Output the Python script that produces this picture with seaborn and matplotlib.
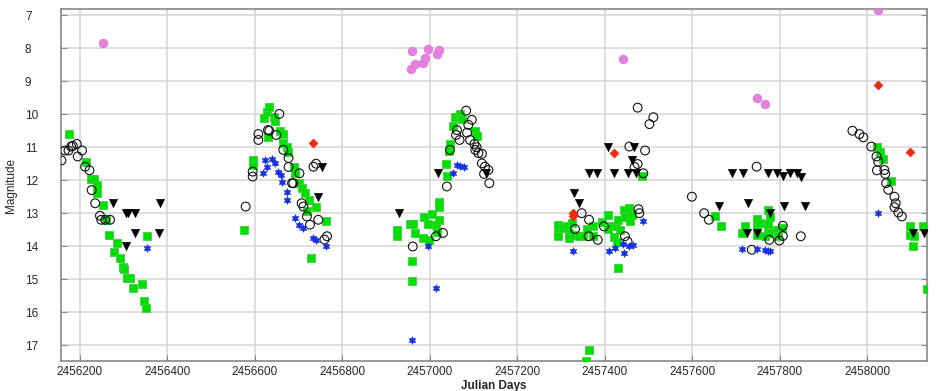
import matplotlib
matplotlib.use("Agg")
import matplotlib.pyplot as plt
import seaborn as sns
import numpy as np

# visual estimates (open circles)
vis_jd = [2456158, 2456166, 2456174, 2456180, 2456184, 2456193, 2456195, 2456205, 2456212, 2456222,
          2456227, 2456235, 2456246, 2456249, 2456258, 2456269, 2456579, 2456595, 2456595, 2456608,
          2456608, 2456630, 2456633, 2456649, 2456656, 2456665, 2456677, 2456677, 2456685, 2456688,
          2456702, 2456707, 2456711, 2456719, 2456726, 2456734, 2456740, 2456745, 2456759, 2456765,
          2456961, 2457014, 2457030, 2457039, 2457046, 2457060, 2457062, 2457068, 2457083, 2457085,
          2457088, 2457092, 2457096, 2457102, 2457104, 2457107, 2457111, 2457119, 2457119, 2457124,
          2457126, 2457134, 2457136, 2457332, 2457347, 2457363, 2457364, 2457384, 2457398, 2457446,
          2457452, 2457456, 2457468, 2457475, 2457475, 2457477, 2457479, 2457488, 2457492, 2457502,
          2457511, 2457599, 2457627, 2457638, 2457736, 2457747, 2457776, 2457799, 2457807, 2457807,
          2457848, 2457966, 2457982, 2457991, 2458009, 2458021, 2458022, 2458025, 2458039, 2458041,
          2458043, 2458048, 2458062, 2458062, 2458065, 2458071, 2458079]
vis_mag = [11.40, 11.10, 11.10, 10.98, 10.96, 10.90, 11.28, 11.10, 11.59, 11.70,
           12.30, 12.70, 13.08, 13.20, 13.20, 13.20, 12.80, 11.74, 11.89, 10.60,
           10.78, 10.48, 10.50, 10.63, 9.99, 11.08, 11.33, 11.60, 12.09, 12.09,
           11.79, 12.70, 12.80, 13.10, 13.35, 11.59, 11.50, 13.20, 13.80, 13.70,
           14.01, 13.70, 13.60, 12.19, 11.08, 10.63, 10.48, 10.78, 9.89, 10.56,
           10.32, 10.78, 10.17, 10.90, 11.08, 11.00, 11.18, 11.20, 11.49, 11.81,
           11.59, 11.69, 12.09, 13.48, 13.00, 13.70, 13.20, 13.81, 13.40, 13.70,
           13.86, 10.98, 11.60, 11.51, 9.80, 12.88, 13.00, 11.79, 11.10, 10.30,
           10.09, 12.50, 13.00, 13.20, 14.11, 11.59, 13.81, 13.83, 13.38, 13.69,
           13.70, 10.50, 10.60, 10.70, 10.98, 11.28, 11.70, 11.44, 11.69, 11.81,
           12.09, 12.29, 12.50, 12.82, 12.70, 12.98, 13.10]

# V band (green squares)
v_jd = [2456176, 2456215, 2456225, 2456233, 2456239, 2456240, 2456254, 2456260, 2456266, 2456279,
        2456286, 2456291, 2456298, 2456302, 2456307, 2456315, 2456322, 2456341, 2456346, 2456351,
        2456354, 2456576, 2456595, 2456595, 2456620, 2456627, 2456631, 2456633, 2456643, 2456647,
        2456658, 2456665, 2456665, 2456673, 2456675, 2456690, 2456692, 2456700, 2456707, 2456715,
        2456720, 2456723, 2456729, 2456740, 2456763,
        2456925, 2456926, 2456955, 2456959, 2456959, 2456961, 2456966, 2456985, 2456987, 2456995,
        2456997, 2457004, 2457014, 2457016, 2457020, 2457021, 2457022, 2457037, 2457039, 2457044,
        2457045, 2457054, 2457058, 2457068, 2457073, 2457104, 2457107,
        2457292, 2457294, 2457294, 2457305, 2457313, 2457317, 2457319, 2457326, 2457328, 2457342,
        2457349, 2457357, 2457359, 2457363, 2457372, 2457374, 2457393, 2457408, 2457408, 2457416,
        2457420, 2457426, 2457427, 2457431, 2457431, 2457435, 2457443, 2457446, 2457456, 2457458,
        2457462, 2457486,
        2457652, 2457665, 2457713, 2457721, 2457747, 2457747, 2457749, 2457755, 2457766, 2457772,
        2457774, 2457774, 2457776, 2457778, 2457794, 2457797, 2457805,
        2458022, 2458028, 2458035, 2458054, 2458098, 2458098, 2458104, 2458107, 2458128, 2458136]
v_mag = [10.60, 11.45, 11.96, 11.96, 12.14, 12.40, 12.75, 13.20, 13.66, 14.18,
         13.91, 14.36, 14.62, 14.70, 14.97, 14.97, 15.28, 15.16, 15.65, 15.88,
         13.70, 13.50, 11.38, 11.54, 10.12, 9.92, 10.68, 9.77, 10.07, 10.22,
         10.50, 10.60, 10.88, 11.00, 11.13, 11.59, 11.79, 12.09, 12.24, 12.39,
         12.92, 12.60, 14.36, 12.80, 13.25,
         13.69, 13.50, 13.32, 14.44, 15.07, 13.32, 13.60, 13.76, 13.13, 13.32,
         13.81, 13.03, 13.35, 13.56, 12.82, 13.20, 12.65, 11.50, 11.87, 11.10,
         10.90, 10.37, 10.09, 10.00, 10.15, 10.50, 10.66,
         13.60, 13.35, 13.69, 13.45, 13.38, 13.60, 13.76, 13.30, 13.66, 13.70,
         13.70, 17.47, 13.48, 17.16, 13.69, 13.40, 13.28, 13.05, 13.48, 13.40,
         13.73, 13.40, 13.86, 13.20, 14.65, 13.50, 12.90, 13.12, 12.85, 13.25,
         13.05, 11.87,
         13.08, 13.40, 13.59, 13.38, 13.35, 13.66, 13.18, 13.30, 13.69, 13.45,
         12.90, 13.32, 13.60, 13.12, 13.52, 13.70, 13.45,
         10.98, 11.16, 11.36, 12.02, 13.40, 13.66, 14.01, 13.69, 13.40, 15.30]

# B band (blue stars)
b_jd = [2456354, 2456618, 2456624, 2456627, 2456639, 2456647, 2456654, 2456659, 2456662, 2456673,
        2456673, 2456692, 2456700, 2456711, 2456734, 2456740, 2456763, 2456959, 2456995, 2457014,
        2457054, 2457063, 2457069, 2457078, 2457328, 2457410, 2457423, 2457441, 2457444, 2457456,
        2457465, 2457487, 2457713, 2457747, 2457766, 2457772, 2457778, 2458025]
b_mag = [14.06, 11.79, 11.38, 11.59, 11.36, 11.49, 11.74, 11.84, 12.04, 12.35,
         12.60, 13.15, 13.35, 13.45, 13.76, 13.81, 13.99, 16.86, 14.01, 15.27,
         11.77, 11.54, 11.56, 11.59, 14.15, 14.15, 14.05, 13.95, 14.20, 14.00,
         13.97, 13.25, 14.09, 14.09, 14.13, 14.16, 14.16, 12.98]

# fainter-than limits (black triangles)
fnt_jd = [2456275, 2456306, 2456306, 2456311, 2456326, 2456326, 2456382, 2456384, 2456745, 2456753,
          2456929, 2457018, 2457129, 2457330, 2457341, 2457363, 2457382, 2457408, 2457421, 2457454,
          2457462, 2457467, 2457472, 2457661, 2457690, 2457715, 2457724, 2457728, 2457749, 2457772,
          2457778, 2457794, 2457807, 2457810, 2457824, 2457839, 2457848, 2457858, 2458105, 2458130]
fnt_mag = [12.70, 13.00, 13.99, 13.00, 13.00, 13.60, 13.60, 12.70, 12.50, 11.59,
           12.98, 11.79, 11.79, 12.38, 12.68, 11.79, 11.79, 10.98, 11.79, 11.79,
           11.38, 10.98, 11.79, 12.78, 11.79, 11.79, 13.59, 12.70, 13.59, 11.79,
           13.00, 11.79, 11.87, 12.78, 11.79, 11.79, 11.89, 12.78, 13.59, 13.59]

# red diamonds
red_jd = [2456733, 2457328, 2457328, 2457421, 2458025, 2458098]
red_mag = [10.88, 13.00, 13.10, 11.18, 9.11, 11.15]

# violet circles
pink_jd = [2456252, 2456958, 2456959, 2456966, 2456985, 2456988, 2456995, 2457017, 2457022,
           2457441, 2457747, 2457766, 2458025]
pink_mag = [7.84, 8.64, 8.08, 8.48, 8.46, 8.30, 8.03, 8.18, 8.05, 8.32, 9.52, 9.70, 6.84]

sns.set_style("whitegrid")
plt.rcParams['font.family'] = ['Liberation Sans', 'DejaVu Sans']

fig = plt.figure(figsize=(9.39, 3.91), dpi=100)
ax = fig.add_axes([0.065, 0.077, 0.922, 0.899])

sns.scatterplot(x=v_jd, y=v_mag, marker='s', s=40, color='#00e000', edgecolor='#40d040',
                linewidth=0.6, ax=ax, zorder=3)
sns.scatterplot(x=vis_jd, y=vis_mag, marker='o', s=40, facecolor='none', edgecolor='#111111',
                linewidth=0.8, ax=ax, zorder=4)
sns.scatterplot(x=b_jd, y=b_mag, marker=(6, 1, 0), s=30, color='#1632e0', edgecolor='#1632e0',
                linewidth=0.5, ax=ax, zorder=5)
sns.scatterplot(x=fnt_jd, y=fnt_mag, marker='v', s=38, color='black', edgecolor='black',
                linewidth=0.3, ax=ax, zorder=5)
sns.scatterplot(x=red_jd, y=red_mag, marker='D', s=22, color='#ee2a10', edgecolor='#ee2a10',
                linewidth=0.3, ax=ax, zorder=5)
sns.scatterplot(x=pink_jd, y=pink_mag, marker='o', s=40, color='#e57fe0', edgecolor='#d070d0',
                linewidth=0.4, ax=ax, zorder=5)

ax.set_xlim(2456157, 2458136)
ax.set_ylim(17.48, 6.82)
ax.set_xticks(np.arange(2456200, 2458100, 200))
ax.set_yticks(np.arange(7, 18, 1))
ax.ticklabel_format(axis='x', useOffset=False, style='plain')

ax.grid(True, color='#d8d8d8', linewidth=1.2)
for sp in ax.spines.values():
    sp.set_color('#888888')
    sp.set_linewidth(1.2)
ax.tick_params(direction='in', length=4, color='#888888', labelsize=8.5,
               right=True, top=False, bottom=True, left=True)
ax.tick_params(axis='y', pad=26)
ax.tick_params(axis='x', pad=4)
for lbl in ax.get_yticklabels():
    lbl.set_horizontalalignment('left')

ax.set_xlabel('Julian Days', fontsize=8.5, fontweight='bold', labelpad=1)
ax.set_ylabel('Magnitude', fontsize=8.5, labelpad=6)

fig.savefig('out.png', dpi=100)
